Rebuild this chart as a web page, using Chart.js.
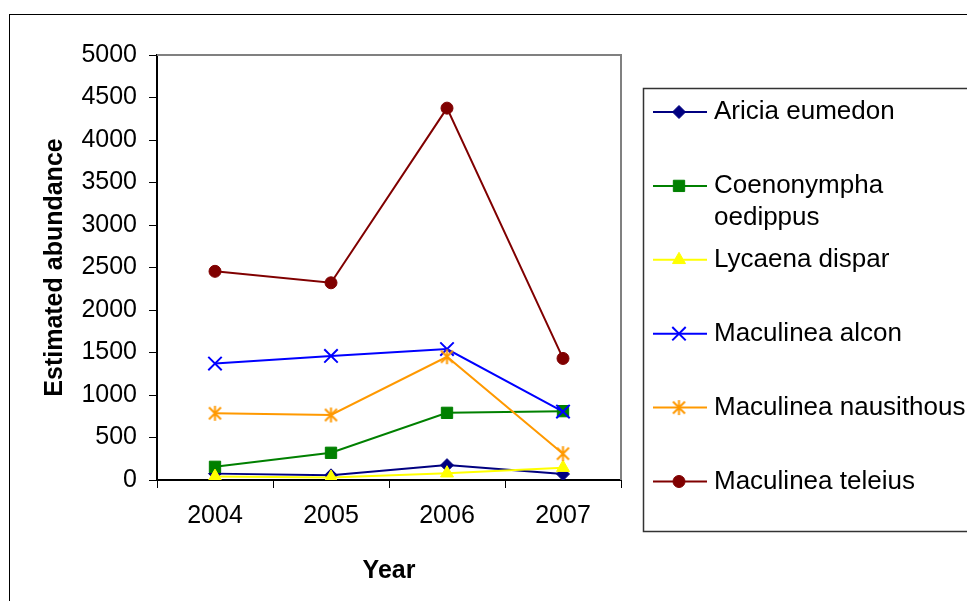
<!DOCTYPE html>
<html lang="en">
<head>
<meta charset="UTF-8" />
<title>Estimated abundance by year</title>
<script src="https://cdn.jsdelivr.net/npm/chart.js"></script>
<style>
  html, body { margin: 0; padding: 0; background: #fff; }
  #wrap { width: 967px; height: 601px; }
</style>
</head>
<body>
<div id="wrap"><canvas id="chart" width="967" height="601"></canvas></div>
<script>
// data
const years = ['2004', '2005', '2006', '2007'];
const speciesNames = ['Aricia eumedon', 'Coenonympha oedippus', 'Lycaena dispar',
                      'Maculinea alcon', 'Maculinea nausithous', 'Maculinea teleius'];
const ariciaEumedon      = [75, 55, 175, 70];
const coenonymphaOedipus = [155, 320, 790, 810];
const lycaenaDispar      = [40, 30, 80, 145];
const maculineaAlcon     = [1370, 1460, 1540, 805];
const maculineaNausith   = [785, 765, 1450, 310];
const maculineaTeleius   = [2455, 2320, 4375, 1430];
const yTicks = { min: 0, max: 5000, step: 500 };

const FONT = "'Liberation Sans', Arial, sans-serif";

// excel style asterisk marker (X plus vertical bar)
function asterisk(color) {
  const c = document.createElement('canvas');
  c.width = 17; c.height = 17;
  const g = c.getContext('2d');
  g.strokeStyle = color; g.lineWidth = 2;
  g.beginPath();
  g.moveTo(2.5, 2.5); g.lineTo(14.5, 14.5);
  g.moveTo(14.5, 2.5); g.lineTo(2.5, 14.5);
  g.moveTo(8.5, 1); g.lineTo(8.5, 16);
  g.stroke();
  return c;
}

const series = [ariciaEumedon, coenonymphaOedipus, lycaenaDispar, maculineaAlcon, maculineaNausith, maculineaTeleius];
const colors = ['#000080', '#008000', '#FFFF00', '#0000FF', '#FF9900', '#800000'];
const styles = ['rectRot', 'rect', 'triangle', 'crossRot', asterisk('#FF9900'), 'circle'];
const radii  = [6.5, 8, 7.5, 9.5, 8, 6];

const datasets = series.map((d, i) => ({
  label: speciesNames[i],
  data: d,
  borderColor: colors[i],
  backgroundColor: colors[i],
  borderWidth: 2,
  pointStyle: styles[i],
  pointRadius: radii[i],
  pointBorderWidth: (styles[i] === 'crossRot') ? 2 : 1,
  tension: 0,
  fill: false,
  order: series.length - i   // later series drawn on top, like excel
}));

// frame, gray plot border and the boxed legend on the right
const frameAndLegend = {
  id: 'frameAndLegend',
  beforeDatasetsDraw(chart) {
    const ctx = chart.ctx, a = chart.chartArea;
    ctx.save();
    ctx.strokeStyle = '#808080';
    ctx.lineWidth = 2;
    ctx.beginPath();
    ctx.moveTo(a.left, a.top);
    ctx.lineTo(a.right, a.top);
    ctx.lineTo(a.right, a.bottom);
    ctx.stroke();
    ctx.restore();
  },
  afterDraw(chart) {
    const ctx = chart.ctx;
    ctx.save();
    // outer chart frame
    ctx.strokeStyle = '#000';
    ctx.lineWidth = 1;
    ctx.strokeRect(9.5, 14.5, 1000, 1000);
    // legend box
    ctx.strokeStyle = '#333';
    ctx.lineWidth = 1.5;
    ctx.strokeRect(643.5, 88.5, 400, 443);

    ctx.font = '26px ' + FONT;
    ctx.textBaseline = 'alphabetic';
    ctx.textAlign = 'left';
    const maxW = 262;
    chart.data.datasets.forEach((ds, i) => {
      const y = 112 + i * 73.9;
      ctx.strokeStyle = ds.borderColor;
      ctx.lineWidth = 2;
      ctx.beginPath();
      ctx.moveTo(653, y);
      ctx.lineTo(707, y);
      ctx.stroke();
      ctx.fillStyle = ds.backgroundColor;
      ctx.lineWidth = ds.pointBorderWidth;
      Chart.helpers.drawPoint(ctx, {
        pointStyle: ds.pointStyle, rotation: 0,
        radius: ds.pointRadius, borderWidth: ds.pointBorderWidth
      }, 679, y);
      // word wrap
      const words = ds.label.split(' ');
      const lines = [];
      let cur = '';
      words.forEach(w => {
        const t = cur ? cur + ' ' + w : w;
        if (ctx.measureText(t).width > maxW && cur) { lines.push(cur); cur = w; }
        else cur = t;
      });
      lines.push(cur);
      ctx.fillStyle = '#000';
      lines.forEach((ln, k) => ctx.fillText(ln, 714, y + 7 + k * 32));
    });
    ctx.restore();
  }
};

new Chart(document.getElementById('chart').getContext('2d'), {
  type: 'line',
  data: { labels: years, datasets: datasets },
  plugins: [frameAndLegend],
  options: {
    responsive: false,
    animation: false,
    events: [],
    layout: { padding: { top: 55, right: 346, left: 0, bottom: 0 } },
    plugins: { legend: { display: false }, tooltip: { enabled: false } },
    scales: {
      x: {
        offset: true,
        grid: { display: true, drawOnChartArea: false, drawTicks: true, tickLength: 8, offset: true, color: '#000', lineWidth: 1 },
        border: { display: true, color: '#000', width: 2 },
        ticks: { color: '#000', font: { family: FONT, size: 25 }, padding: 13, maxRotation: 0 },
        title: { display: true, text: 'Year', color: '#000', font: { family: FONT, size: 25, weight: 'bold' }, padding: { top: 0, bottom: 15 } },
        afterFit(scale) { scale.height = 121; }
      },
      y: {
        min: yTicks.min,
        max: yTicks.max,
        grid: { display: true, drawOnChartArea: false, drawTicks: true, tickLength: 8, color: '#000', lineWidth: 1 },
        border: { display: true, color: '#000', width: 2 },
        ticks: { stepSize: yTicks.step, color: '#000', font: { family: FONT, size: 25 }, padding: 12,
                 callback: v => String(v) },
        title: { display: true, text: 'Estimated abundance', color: '#000', font: { family: FONT, size: 25, weight: 'bold' }, padding: { top: 40, bottom: 0 } },
        afterFit(scale) { scale.width = 157; }
      }
    }
  }
});
</script>
</body>
</html>
